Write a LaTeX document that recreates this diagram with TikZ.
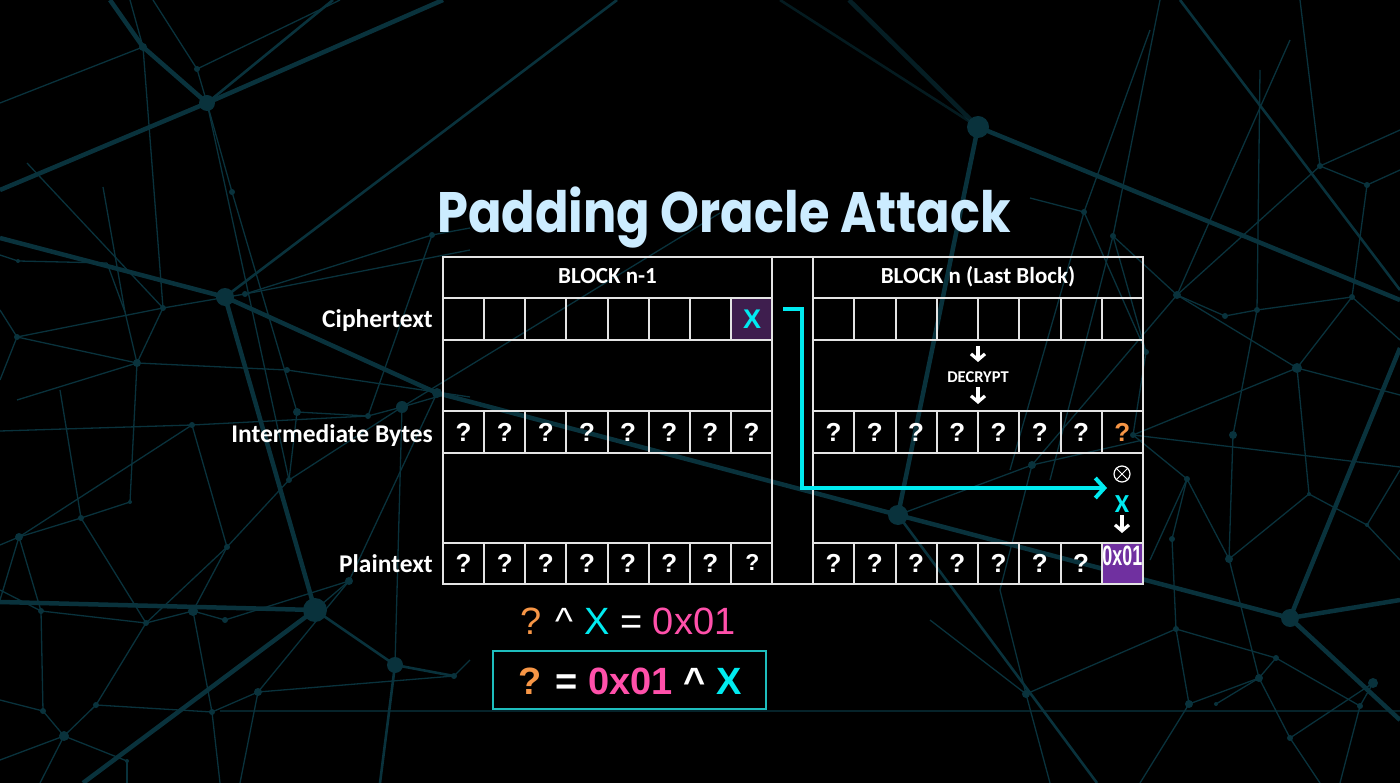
\documentclass[tikz,border=0pt]{standalone}
\usepackage{fontspec}
\setmainfont{Carlito}
\newfontfamily\arialf{Liberation Sans}
\newfontfamily\titlef{Poppins}
\usetikzlibrary{arrows.meta}
\definecolor{titlec}{RGB}{204,236,255}
\definecolor{gridc}{RGB}{228,228,228}
\definecolor{cyanx}{RGB}{0,235,240}
\definecolor{orng}{RGB}{247,150,70}
\definecolor{pinkx}{RGB}{255,80,170}
\definecolor{xpurp}{RGB}{62,30,78}
\definecolor{opurp}{RGB}{112,48,160}
\definecolor{boxc}{RGB}{30,190,190}
\definecolor{bgl}{RGB}{9,50,60}
\tikzset{
  bgthick/.style={draw=bgl, line width=4.5pt},
  bgmed/.style={draw=bgl, line width=2.6pt},
  bgthin/.style={draw=bgl, line width=1.3pt},
  gridline/.style={draw=gridc, line width=2pt},
  qm/.style={font=\arialf\bfseries\fontsize{26}{26}\selectfont, text=white, inner sep=0pt, anchor=base},
  rowlab/.style={font=\bfseries\fontsize{25.5}{25.5}\selectfont, text=white, anchor=base east, inner sep=0pt},
  headlab/.style={font=\bfseries\fontsize{23}{23}\selectfont, text=white, anchor=base, inner sep=0pt},
  warrow/.style={draw=white, line width=3.2pt, -{Straight Barb[length=6pt,width=14pt]}},
  cyanarrow/.style={draw=cyanx, line width=4pt, line join=miter, -{Straight Barb[length=9pt,width=20pt]}},
}
\begin{document}
\begin{tikzpicture}[x=1pt,y=-1pt]
\useasboundingbox (0,0) rectangle (1400,783);
\fill[black] (0,0) rectangle (1400,783);
% ---------- background network ----------
\foreach \n/\x/\y in {A/207/103,B/225/297,D/315/610,E/395/665,F/978/127,G/898/515,H/1290/618,
 a1/143/47,a2/197/69,a3/232/192,a4/163/308,a5/137/363,a6/17/337,a7/18/261,a8/287/370,a9/245/294,a10/432/235,a11/437/393,
 b1/192/425,b2/19/537,b3/81/518,b4/130/502,b5/227/547,b6/289/480,b7/297/412,b8/193/611,b9/146/623,b10/41/611,
 b11/225/620,b12/258/692,b13/64/736,b14/43/711,b15/96/705,b16/212/712,b17/349/581,b18/368/416,b19/402/407,b20/454/676,b21/127/761,
 c1/1084/212,c2/1113/236,c3/1177/295,c4/1225/316,c5/1257/310,c6/1320/166,c7/1367/185,c8/1352/297,c9/1297/368,c10/1146/352,
 d1/1133/435,d2/1233/435,d3/1187/479,d4/1172/539,d5/1229/559,d6/1309/494,d7/1367/525,d8/1176/629,d9/1259/678,d10/1276/658,
 d11/1189/704,d12/1216/704,d13/1026/694,d14/1290/738,d15/1373/683,d16/1360/706,d17/1032/465}
 {\coordinate (\n) at (\x,\y);}
% thin
\foreach \p/\q in {a1/a4,a2/A,a9/a10,a4/a6,a4/a9,a4/a5,a5/a8,a6/a5,a10/b18,A/b6,
 b1/b18,b1/b2,b1/b5,b2/b3,b2/b10,b3/b4,b4/a5,b3/b9,b5/b6,b5/b9,b5/b8,b6/b7,b6/b19,b7/b18,b8/b11,b8/b9,b8/b16,
 b9/b10,b9/b15,b10/b14,b11/b17,b12/b17,b12/b16,b12/b20,b13/b14,b13/b15,b13/b21,b15/b16,b17/a11,D/b17,b18/b19,b19/E,
 c1/c10,c2/c3,c2/c10,c3/c6,c3/c9,c3/c4,c4/c5,c5/c8,c5/d2,c6/c7,c7/c8,c8/c9,c9/d1,c9/d6,c10/d1,d1/d3,d2/d5,d3/d4,d3/d5,
 d4/d8,d5/d9,d5/d6,d6/d7,d8/d11,d8/d13,d8/d10,d9/d11,d9/d12,d9/d14,d9/d10,d10/d16,d14/d15,d15/d16,d17/G,d17/c3,A/a3,a3/b7}
 {\draw[bgthin] (\p) -- (\q);}
\foreach \p/\x/\y in {a1/0/103,a1/130/0,a2/153/0,a2/340/0,a5/17/400,a6/0/310,a6/0/380,a7/0/255,a7/107/263,a8/470/397,
 a9/470/250,a10/470/228,b1/0/431,b2/0/545,b2/0/600,b3/60/390,b10/0/590,b12/240/783,b13/0/760,b13/40/783,b14/0/700,
 b19/443/395,b19/720/213,b20/470/660,b21/127/783,b16/220/783,c1/1150/30,c1/1010/470,c1/1030/198,c2/1160/0,c2/1050/480,
 c3/1290/40,c5/1260/70,c6/1400/130,c6/1300/0,c7/1400/170,c8/1400/340,c9/1400/395,d1/1400/467,d3/1150/560,d7/1400/470,
 d7/1400/560,d11/1140/783,d13/1000/590,d13/1050/783,d13/930/620,d14/1320/783,d16/1340/783,d17/1000/590,d17/1143/440}
 {\draw[bgthin] (\p) -- (\x,\y);}
\draw[bgthin] (27,163) -- (a4);
\draw[bgthin] (103,187) -- (125,312) -- (a5);
\draw[bgthin] (107,263) -- (125,312);
\draw[bgthin, opacity=0.7] (220,711) -- (1400,711);
% medium
\draw[bgmed] (A) -- (333,0);
\draw[bgmed] (B) -- (617,0);
\draw[bgmed] (D) -- (E) -- (b20);
\draw[bgmed] (E) -- (380,783);
\draw[bgmed] (G) -- (1097,783);
\draw[bgmed] (1180,0) -- (1400,290);
\draw[bgmed, opacity=0.55] (F) -- (780,0);
% thick
\draw[bgthick] (110,0) -- (a1) -- (A) -- (443,0);
\draw[bgthick] (A) -- (0,190);
\draw[bgthick] (0,238) -- (B);
\draw[bgthick] (B) -- (a11) -- (G) -- (H);
\draw[bgthick] (B) -- (D);
\draw[bgthick] (0,602) -- (D) -- (83,783);
\draw[bgthick, opacity=0.6] (F) -- (849,0);
\draw[bgthick] (F) -- (1400,300);
\draw[bgthick] (F) -- (G);
\draw[bgthick] (1400,600) -- (H) -- (1400,348);
\draw[bgthick] (H) -- (1400,720);
% hubs
\foreach \n/\r in {A/8,B/9,D/12,E/8,F/11,G/10,H/9,a1/4,a2/3,a3/3,a4/3,a5/4,a6/3,a7/2,a8/3,a9/3,a10/3,a11/5,
 b1/3,b2/4,b3/3,b4/2,b5/3,b6/3,b7/4,b8/5,b9/3,b10/3,b11/3,b12/4,b13/5,b14/3,b15/3,b16/3,b17/4,b18/3,b19/6,b20/3,b21/2,
 c1/3,c2/3,c3/4,c4/3,c5/3,c6/3,c7/3,c8/3,c9/5,c10/3,d1/3,d2/4,d3/3,d4/3,d5/4,d6/2,d7/2,d8/3,d9/4,d10/3,d11/4,d12/2,
 d13/4,d14/3,d15/5,d16/3,d17/4}
 {\fill[bgl] (\n) circle (\r);}
% ---------- title ----------
\node[anchor=base west, inner sep=0pt, text=titlec] (title) at (437,233) {\scalebox{0.868}[1]{\titlef\bfseries\fontsize{57}{57}\selectfont Padding Oracle Attack}};
% ---------- table ----------
\fill[xpurp] (731.875,298) rectangle (772,340);
\fill[opurp] (1101.75,543) rectangle (1143,584);
\draw[gridline] (443,257) rectangle (1143,584);
\draw[gridline] (772,257) -- (772,584);
\draw[gridline] (813,257) -- (813,584);
\foreach \y in {298,340,411,453,543} {
  \draw[gridline] (443,\y) -- (772,\y);
  \draw[gridline] (813,\y) -- (1143,\y);
}
\foreach \k in {1,...,7} {
  \pgfmathsetmacro\xl{443+\k*41.125}
  \pgfmathsetmacro\xr{813+\k*41.25}
  \foreach \ya/\yb in {298/340,411/453,543/584} {
    \draw[gridline] (\xl,\ya) -- (\xl,\yb);
    \draw[gridline] (\xr,\ya) -- (\xr,\yb);
  }
}
\node[headlab] (h1) at (607.5,284) {BLOCK n-1};
\node[headlab] (h2) at (978,284) {BLOCK n (Last Block)};
\node[rowlab] (l1) at (433,328) {Ciphertext};
\node[rowlab] (l2) at (433,442) {Intermediate Bytes};
\node[rowlab] (l3) at (433,572) {Plaintext};
\foreach \k in {0,...,7} {
  \pgfmathsetmacro\xl{443+(\k+0.5)*41.125}
  \node[qm] (il\k) at (\xl,441) {?};
}
\foreach \k in {0,...,6} {
  \pgfmathsetmacro\xl{443+(\k+0.5)*41.125}
  \node[qm] (pl\k) at (\xl,572) {?};
}
\node[qm, font=\arialf\bfseries\fontsize{23}{23}\selectfont] (pl7) at (752.4,570) {?};
\foreach \k in {0,...,6} {
  \pgfmathsetmacro\xr{813+(\k+0.5)*41.25}
  \node[qm] (ir\k) at (\xr,441) {?};
  \node[qm] (pr\k) at (\xr,572) {?};
}
\node[qm, text=orng] (ir7) at (1122.4,441) {?};
\node[anchor=base, inner sep=0pt, text=white] (pad) at (1122.4,565) {\scalebox{0.64}[1]{\arialf\bfseries\fontsize{28}{28}\selectfont 0x01}};
\node[anchor=base, inner sep=0pt, text=cyanx, font=\arialf\bfseries\fontsize{27}{27}\selectfont] (xcell) at (752,328.5) {X};
% decrypt
\node[anchor=base, inner sep=0pt, text=white, font=\bfseries\fontsize{16.5}{16.5}\selectfont] (dec) at (978,383) {DECRYPT};
\coordinate (d1s) at (978,346); \coordinate (d1e) at (978,362);
\coordinate (d2s) at (978,387); \coordinate (d2e) at (978,404);
\draw[warrow] (d1s) -- (d1e);
\draw[warrow] (d2s) -- (d2e);
% xor
\node[circle, draw=white, line width=1.2pt, minimum size=16pt, inner sep=0pt] (ot) at (1122,474) {};
\draw[white, line width=1pt] (ot.north west) -- (ot.south east);
\draw[white, line width=1pt] (ot.north east) -- (ot.south west);
\node[anchor=base, inner sep=0pt, text=cyanx, font=\bfseries\fontsize{26}{26}\selectfont] (xx) at (1122,512.5) {X};
\coordinate (x1s) at (1122,515); \coordinate (x1e) at (1122,533);
\draw[warrow] (x1s) -- (x1e);
% cyan arrow
\coordinate (cS) at (783,309);
\coordinate (cA) at (802,309);
\coordinate (cB) at (802,488);
\coordinate (cE) at (1107,488);
\draw[cyanarrow] (cS) -- (cA) -- (cB) -- (cE);
% ---------- equations ----------
\node[anchor=base, inner sep=0pt, font=\arialf\fontsize{38}{38}\selectfont] (eq1) at (628,634)
 {\textcolor{orng}{?} \textcolor{white}{\char"5E} \textcolor{cyanx}{X} \textcolor{white}{=} \textcolor{pinkx}{0x01}};
\node[draw=boxc, line width=1.5pt, minimum width=273pt, minimum height=58pt, inner sep=0pt] (box) at (629.5,680) {};
\node[anchor=base, inner sep=0pt, font=\arialf\bfseries\fontsize{38}{38}\selectfont] (eq2) at (630,694)
 {\textcolor{orng}{?} \textcolor{white}{=} \textcolor{pinkx}{0x01} \textcolor{white}{\char"5E} \textcolor{cyanx}{X}};
\end{tikzpicture}
\end{document}
